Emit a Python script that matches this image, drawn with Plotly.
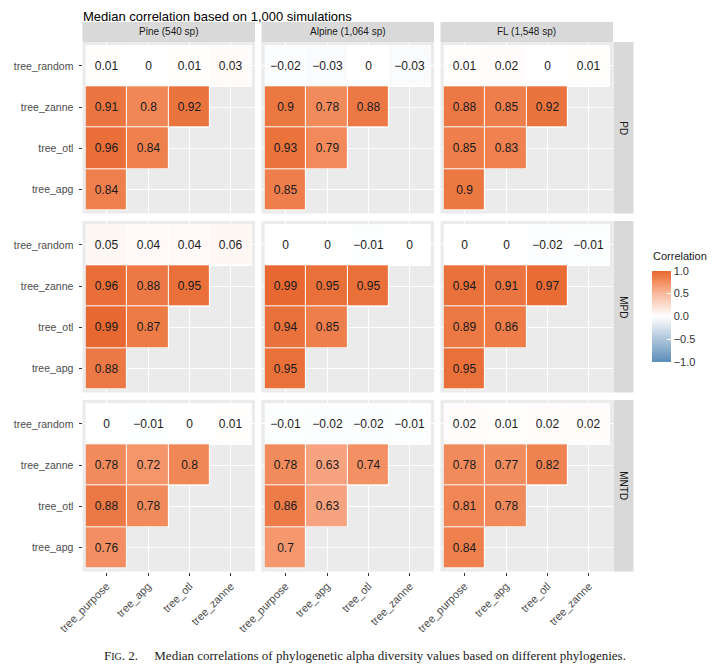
import plotly.graph_objects as go

W, H = 719, 672
OFF = 8  # page body margin offset

regions = ["Pine (540 sp)", "Alpine (1,064 sp)", "FL (1,548 sp)"]
metrics = ["PD", "MPD", "MNTD"]
x_trees = ["tree_purpose", "tree_apg", "tree_otl", "tree_zanne"]
y_trees = ["tree_apg", "tree_otl", "tree_zanne", "tree_random"]  # bottom -> top

# rows: tree_random, tree_zanne, tree_otl, tree_apg (lower triangle)
pd_vals = {
    "Pine": [[0.01, 0, 0.01, 0.03], [0.91, 0.8, 0.92], [0.96, 0.84], [0.84]],
    "Alpine": [[-0.02, -0.03, 0, -0.03], [0.9, 0.78, 0.88], [0.93, 0.79], [0.85]],
    "FL": [[0.01, 0.02, 0, 0.01], [0.88, 0.85, 0.92], [0.85, 0.83], [0.9]],
}
mpd_vals = {
    "Pine": [[0.05, 0.04, 0.04, 0.06], [0.96, 0.88, 0.95], [0.99, 0.87], [0.88]],
    "Alpine": [[0, 0, -0.01, 0], [0.99, 0.95, 0.95], [0.94, 0.85], [0.95]],
    "FL": [[0, 0, -0.02, -0.01], [0.94, 0.91, 0.97], [0.89, 0.86], [0.95]],
}
mntd_vals = {
    "Pine": [[0, -0.01, 0, 0.01], [0.78, 0.72, 0.8], [0.88, 0.78], [0.76]],
    "Alpine": [[-0.01, -0.02, -0.02, -0.01], [0.78, 0.63, 0.74], [0.86, 0.63], [0.7]],
    "FL": [[0.02, 0.01, 0.02, 0.02], [0.78, 0.77, 0.82], [0.81, 0.78], [0.84]],
}
all_vals = [pd_vals, mpd_vals, mntd_vals]
region_keys = ["Pine", "Alpine", "FL"]

colorscale = [
    [0.0, "#5B8EBA"], [0.25, "#ADC4DA"], [0.5, "#FFFFFF"], [0.75, "#F9BA9E"],
    [0.815, "#F8A37F"], [0.89, "#F18B5C"], [0.93, "#ED7C48"],
    [0.975, "#E97039"], [1.0, "#E8662F"],
]

def fmt(v):
    s = ("%.2f" % v).rstrip("0").rstrip(".")
    if s in ("-0", ""):
        s = "0"
    return s.replace("-", "\u2212")

def px(xp):
    return (xp - OFF) / W

def py(yp):
    return 1 - (yp - OFF) / H

# panel positions in page pixels
col_x0 = [82.5, 261.5, 440.5]
col_w = 172.5
row_y0 = [42, 221, 400]
row_h = 171.5

fig = go.Figure()
layout = {}
shapes = []
annotations = []

for r, m in enumerate(metrics):
    for c, reg in enumerate(region_keys):
        idx = r * 3 + c + 1
        sfx = "" if idx == 1 else str(idx)
        rows = all_vals[r][reg]
        # build 4x4 z with y bottom->top = apg, otl, zanne, random
        z, txt, mask = [], [], []
        for yi in range(4):
            row = rows[3 - yi]
            zr, tr, mr = [], [], []
            for xi in range(4):
                if xi < len(row):
                    zr.append(row[xi]); tr.append(fmt(row[xi])); mr.append(1)
                else:
                    zr.append(None); tr.append(""); mr.append(None)
            z.append(zr); txt.append(tr); mask.append(mr)
        xs = [1, 2, 3, 4]
        ys = [1, 2, 3, 4]
        fig.add_trace(go.Heatmap(
            x=xs, y=ys, z=mask, colorscale=[[0, "white"], [1, "white"]],
            showscale=False, hoverinfo="skip", xaxis="x" + sfx, yaxis="y" + sfx,
        ))
        hm = dict(
            x=xs, y=ys, z=z, text=txt, texttemplate="%{text}",
            textfont=dict(size=12, color="#1a1a1a", family="Liberation Sans"),
            colorscale=colorscale, zmin=-1, zmax=1, xgap=1, ygap=1,
            xaxis="x" + sfx, yaxis="y" + sfx, showscale=(idx == 1),
        )
        if idx == 1:
            hm["colorbar"] = dict(
                x=px(651.5), xanchor="left", y=py(316.3), yanchor="middle",
                len=91.3 / H, lenmode="fraction", thickness=19, outlinewidth=0,
                xpad=0, ypad=0, ticks="inside", tickcolor="white", ticklen=4,
                tickvals=[-1, -0.5, 0, 0.5, 1],
                ticktext=["\u22121.0", "\u22120.5", "0.0", "0.5", "1.0"],
                tickfont=dict(size=11, color="#333333"),
            )
        fig.add_trace(go.Heatmap(**hm))

        x0 = col_x0[c]
        y0 = row_y0[r]
        layout["xaxis" + sfx] = dict(
            domain=[px(x0), px(x0 + col_w)], anchor="y" + sfx,
            range=[0.42, 4.58], tickvals=xs, ticktext=x_trees,
            showticklabels=(r == 2), ticks="outside" if r == 2 else "",
            ticklen=3, tickcolor="#333333", tickangle=-45, automargin=False,
            tickfont=dict(size=11, color="#4D4D4D"),
            showgrid=True, gridcolor="white", gridwidth=1.1, zeroline=False,
            fixedrange=True,
        )
        layout["yaxis" + sfx] = dict(
            domain=[py(y0 + row_h), py(y0)], anchor="x" + sfx,
            range=[0.42, 4.58], tickvals=ys, ticktext=y_trees,
            showticklabels=(c == 0), ticks="outside" if c == 0 else "",
            ticklen=3, tickcolor="#333333", automargin=False,
            ticklabelstandoff=3,
            tickfont=dict(size=10.5, color="#4D4D4D"),
            showgrid=True, gridcolor="white", gridwidth=1.1, zeroline=False,
            fixedrange=True,
        )

# top strips
for c, reg in enumerate(regions):
    x0 = col_x0[c]
    shapes.append(dict(type="rect", xref="paper", yref="paper",
                       x0=px(x0), x1=px(x0 + col_w), y0=py(42), y1=py(22),
                       fillcolor="#D9D9D9", line=dict(width=0), layer="below"))
    annotations.append(dict(text=reg, xref="paper", yref="paper",
                            x=px(x0 + col_w / 2), y=py(32), showarrow=False,
                            xanchor="center", yanchor="middle",
                            font=dict(size=10, color="#1a1a1a")))
# right strips
for r, m in enumerate(metrics):
    y0 = row_y0[r]
    shapes.append(dict(type="rect", xref="paper", yref="paper",
                       x0=px(613.5), x1=px(633.5), y0=py(y0 + row_h), y1=py(y0),
                       fillcolor="#D9D9D9", line=dict(width=0), layer="below"))
    annotations.append(dict(text=m, xref="paper", yref="paper",
                            x=px(623.5), y=py(y0 + row_h / 2), showarrow=False,
                            xanchor="center", yanchor="middle",
                            textangle=90, font=dict(size=10, color="#1a1a1a")))

annotations.append(dict(text="Correlation", xref="paper", yref="paper",
                        x=px(651), y=py(256), xanchor="left", yanchor="middle",
                        showarrow=False, font=dict(size=11, color="#1a1a1a")))
annotations.append(dict(text="Median correlation based on 1,000 simulations",
                        xref="paper", yref="paper", x=px(82), y=1,
                        xanchor="left", yanchor="top", showarrow=False,
                        borderpad=0, font=dict(size=13, color="#000000")))
annotations.append(dict(
    text="F<span style='font-size:10px'>IG</span>. 2.\u2003 Median correlations of phylogenetic alpha diversity values based on different phylogenies.",
    xref="paper", yref="paper", x=px(365), y=py(655), xanchor="center",
    yanchor="middle", showarrow=False,
    font=dict(size=13, color="#222222", family="Liberation Serif")))

fig.update_layout(
    width=W, height=H, margin=dict(l=0, r=0, t=0, b=0, autoexpand=False),
    paper_bgcolor="white", plot_bgcolor="#EBEBEB",
    font=dict(family="Liberation Sans"),
    shapes=shapes, annotations=annotations, **layout,
)

fig.write_html("out.html")
